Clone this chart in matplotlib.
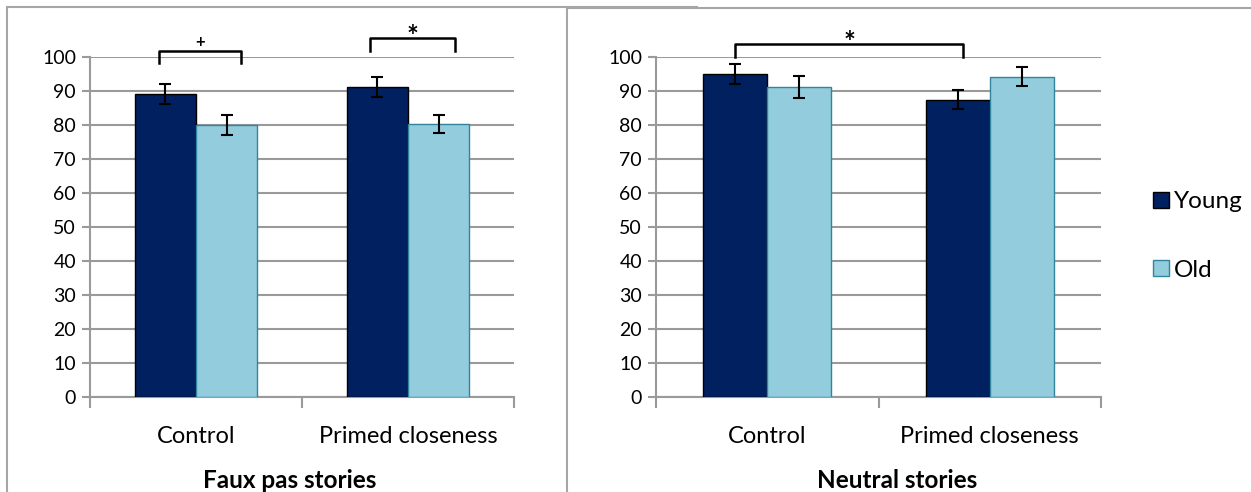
import matplotlib.pyplot as plt
import numpy as np
from matplotlib.patches import Rectangle

plt.rcParams['font.family'] = ['Lato', 'DejaVu Sans']

# group means and standard errors
conditions = ["Control", "Primed closeness"]
faux_young = [89.0, 91.1]
faux_young_err = [3.0, 2.9]
faux_old = [79.9, 80.2]
faux_old_err = [3.0, 2.6]
neutral_young = [95.0, 87.4]
neutral_young_err = [3.0, 2.9]
neutral_old = [91.1, 94.1]
neutral_old_err = [3.2, 2.8]

young_col = '#002060'
old_col = '#93CDDD'
old_edge = '#31859C'
grid_col = '#9A9A9A'

fig = plt.figure(figsize=(12.51, 4.92), dpi=100)

# panel frames (the right one is drawn over the left one)
fig.add_artist(Rectangle((7/1251, -0.1), 690/1251, 1.1 - 7/492, transform=fig.transFigure,
                         fill=True, facecolor='white', edgecolor='#A6A6A6', lw=1.5, zorder=-2))
fig.add_artist(Rectangle((567/1251, -0.1), 700/1251, 1.1 - 8/492, transform=fig.transFigure,
                         fill=True, facecolor='white', edgecolor='#A6A6A6', lw=1.5, zorder=-1))

ax1 = fig.add_axes([90/1251, 95/492, 424/1251, 340.3/492])
ax2 = fig.add_axes([656/1251, 95/492, 445/1251, 340.3/492])

w = 0.288
x = np.arange(len(conditions))


def draw_panel(ax, young, young_err, old, old_err, title, title_x):
    ax.bar(x - w/2, young, w, color=young_col, edgecolor='black', lw=1, zorder=3, label='Young')
    ax.bar(x + w/2, old, w, color=old_col, edgecolor=old_edge, lw=1, zorder=3, label='Old')
    ax.errorbar(x - w/2, young, yerr=young_err, fmt='none', ecolor='black', elinewidth=1.5,
                capsize=4, capthick=1.5, zorder=4)
    ax.errorbar(x + w/2, old, yerr=old_err, fmt='none', ecolor='black', elinewidth=1.5,
                capsize=4, capthick=1.5, zorder=4)
    ax.set_xlim(-0.5, 1.5)
    ax.set_ylim(0, 100)
    ax.set_yticks(np.arange(0, 101, 10))
    ax.yaxis.grid(True, color=grid_col, lw=1.5, zorder=0)
    ax.set_axisbelow(True)
    for s in ['top', 'right']:
        ax.spines[s].set_visible(False)
    for s in ['left', 'bottom']:
        ax.spines[s].set_color(grid_col)
        ax.spines[s].set_linewidth(1.5)
    ax.tick_params(axis='y', length=6, width=1.5, color=grid_col, labelsize=14, pad=4)
    ax.set_xticks([-0.5, 0.5, 1.5])
    ax.set_xticklabels([])
    ax.tick_params(axis='x', which='major', length=8, width=1.5, color=grid_col)
    ax.set_xticks(x, minor=True)
    ax.set_xticklabels(conditions, minor=True, fontsize=17)
    ax.tick_params(axis='x', which='minor', length=0, pad=21)
    ax.patch.set_alpha(0)
    fig.text(title_x, 12/492, title, ha='center', va='center', fontsize=17.5, fontweight='bold')


def bracket(ax, x0, x1, y_low, y_top, mark, size, dy):
    ax.plot([x0, x0, x1, x1], [y_low, y_top, y_top, y_low], color='black', lw=1.8,
            clip_on=False, zorder=5)
    ax.text((x0 + x1) / 2, y_top + dy, mark, ha='center', va='bottom', fontsize=size,
            fontweight='bold', clip_on=False)


draw_panel(ax1, faux_young, faux_young_err, faux_old, faux_old_err, "Faux pas stories", 290/1251)
draw_panel(ax2, neutral_young, neutral_young_err, neutral_old, neutral_old_err, "Neutral stories", 897/1251)

bracket(ax1, -0.175, 0.212, 98.1, 101.8, '+', 12, 0.3)
bracket(ax1, 0.82, 1.22, 101.7, 105.6, '*', 20, -3.6)
bracket(ax2, -0.145, 0.88, 100.0, 103.7, '*', 20, -3.6)

handles, labels = ax2.get_legend_handles_labels()
fig.legend(handles, labels, loc='center left', bbox_to_anchor=(1131/1251, 256/492),
           frameon=False, fontsize=17.5, handlelength=0.65, handleheight=0.65,
           handletextpad=0.2, labelspacing=1.95)

fig.savefig('out.png', dpi=100)
